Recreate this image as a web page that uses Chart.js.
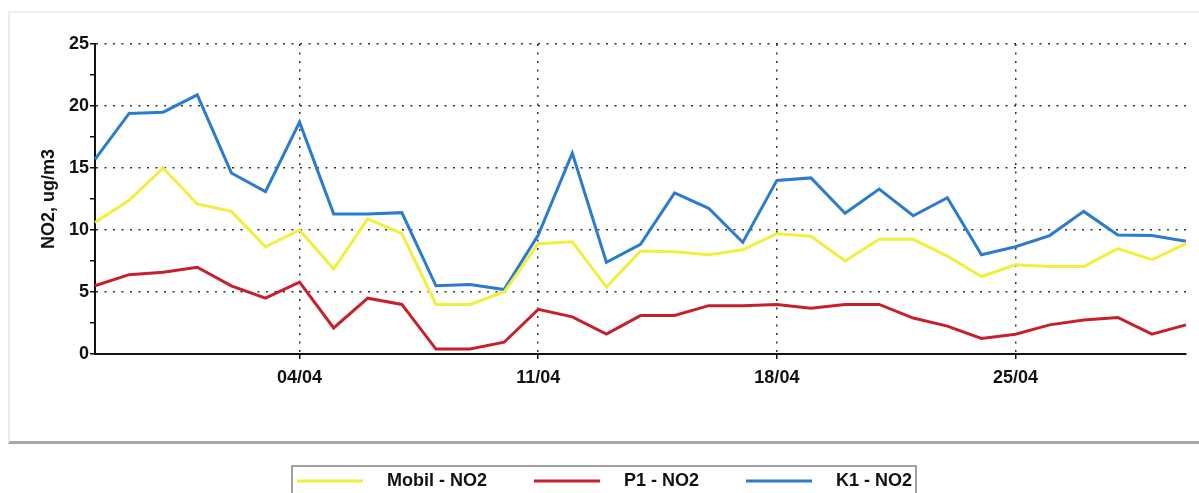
<!DOCTYPE html>
<html>
<head>
<meta charset="utf-8">
<script src="https://cdn.jsdelivr.net/npm/chart.js@4"></script>
<style>
  html, body { margin: 0; padding: 0; background: #fff; }
  #wrap { position: relative; width: 1199px; height: 493px; overflow: hidden; }
  /* panel frame behind the chart */
  #panel {
    position: absolute; left: 8px; top: 11px; width: 1200px; height: 428px;
    border-left: 2px solid #ebebeb; border-top: 2px solid #efefef; border-bottom: 3px solid #a8a8a8;
  }
  #Chart { position: absolute; left: 0; top: 0; }
</style>
</head>
<body>
<div id="wrap">
  <div id="panel"></div>
  <canvas id="Chart" width="1199" height="493"></canvas>
</div>
<script>
// 日付ラベル (29/03 - 30/04)
let dateLabels = ['29/03', '30/03', '31/03', '01/04', '02/04', '03/04', '04/04', '05/04', '06/04', '07/04', '08/04',
  '09/04', '10/04', '11/04', '12/04', '13/04', '14/04', '15/04', '16/04', '17/04', '18/04', '19/04',
  '20/04', '21/04', '22/04', '23/04', '24/04', '25/04', '26/04', '27/04', '28/04', '29/04', '30/04'];
let shownLabels = ['04/04', '11/04', '18/04', '25/04'];

let mobilNO2 = [10.6, 12.4, 15.0, 12.1, 11.5, 8.65, 10.0, 6.85, 10.9, 9.7, 4.0,
  4.0, 5.0, 8.9, 9.05, 5.4, 8.3, 8.25, 8.0, 8.4, 9.7, 9.5,
  7.5, 9.25, 9.25, 7.9, 6.25, 7.2, 7.05, 7.05, 8.5, 7.6, 8.9];
let p1NO2 = [5.5, 6.4, 6.6, 7.0, 5.5, 4.5, 5.8, 2.1, 4.5, 4.0, 0.4,
  0.4, 0.95, 3.6, 3.0, 1.6, 3.1, 3.1, 3.9, 3.9, 4.0, 3.7,
  4.0, 4.0, 2.9, 2.25, 1.25, 1.6, 2.35, 2.75, 2.95, 1.6, 2.35];
let k1NO2 = [15.7, 19.4, 19.5, 20.9, 14.6, 13.1, 18.7, 11.3, 11.3, 11.4, 5.5,
  5.6, 5.2, 9.6, 16.2, 7.4, 8.85, 13.0, 11.75, 9.0, 14.0, 14.2,
  11.35, 13.3, 11.15, 12.6, 8.0, 8.65, 9.55, 11.5, 9.6, 9.55, 9.1];

let seriesNames = ['Mobil - NO2', 'P1 - NO2', 'K1 - NO2'];
let seriesColors = ['#f0f03c', '#c8202a', '#2b7bcf'];

let font18 = { family: '"Liberation Sans", Arial, sans-serif', size: 18, weight: 'bold' };
let dots = '#333333';

// 凡例の枠
let legendFrame = {
  id: 'legendFrame',
  afterDraw(chart) {
    let hb = chart.legend.legendHitBoxes;
    if (!hb || !hb.length) return;
    let ctx = chart.ctx;
    let last = hb[hb.length - 1];
    let x1 = hb[0].left - 5;
    let x2 = last.left + last.width + 4;
    let y1 = hb[0].top - 6;
    ctx.save();
    ctx.strokeStyle = '#a0a0a0';
    ctx.lineWidth = 2;
    ctx.strokeRect(x1, y1, x2 - x1, 60);
    ctx.restore();
  }
};

let lineCtx = document.getElementById('Chart');
let lineConfig = {
  type: 'line',
  data: {
    labels: dateLabels,
    datasets: [mobilNO2, p1NO2, k1NO2].map((d, i) => ({
      label: seriesNames[i],
      data: d,
      borderColor: seriesColors[i],
      backgroundColor: seriesColors[i],
      borderWidth: 3,
      pointRadius: 0,
      tension: 0,
    })),
  },
  options: {
    responsive: false,
    animation: false,
    layout: { padding: { left: 23, right: 13, top: 44, bottom: -7 } },
    scales: {
      x: {
        offset: false,
        afterBuildTicks: (axis) => {
          axis.ticks = axis.ticks.filter(t => shownLabels.includes(dateLabels[t.value]));
        },
        afterFit: (axis) => { axis.height = 71; },
        ticks: { autoSkip: false, maxRotation: 0, padding: 8, color: '#111', font: font18 },
        grid: { color: dots, lineWidth: 1.5, tickColor: '#111', tickLength: 5, tickWidth: 1.5 },
        border: { color: '#111', width: 2, dash: [2, 6.5] },
      },
      y: {
        min: 0,
        max: 25,
        afterFit: (axis) => { axis.width = 72; },
        ticks: {
          stepSize: 2.5,
          padding: 1,
          color: '#111',
          font: font18,
          callback: (v) => (v % 5 === 0 ? v : ''),
        },
        grid: {
          color: (c) => (c.tick && c.tick.value % 5 === 0 ? dots : 'rgba(0,0,0,0)'),
          lineWidth: 1.5,
          tickColor: '#111',
          tickLength: 5,
          tickWidth: 1.5,
        },
        border: { color: '#111', width: 2, dash: [2, 6.5] },
        title: { display: true, text: 'NO2, ug/m3', color: '#111', font: font18, padding: { top: 15, bottom: 0 } },
      },
    },
    plugins: {
      tooltip: { enabled: false },
      legend: {
        position: 'bottom',
        labels: {
          boxWidth: 66,
          boxHeight: 3,
          padding: 47,
          color: '#111',
          font: font18,
          generateLabels: (chart) => Chart.defaults.plugins.legend.labels.generateLabels(chart)
            .map(l => ({ ...l, text: '   ' + l.text, lineWidth: 0 })),
        },
      },
    },
  },
  plugins: [legendFrame],
};
let lineChart = new Chart(lineCtx, lineConfig);
</script>
</body>
</html>
